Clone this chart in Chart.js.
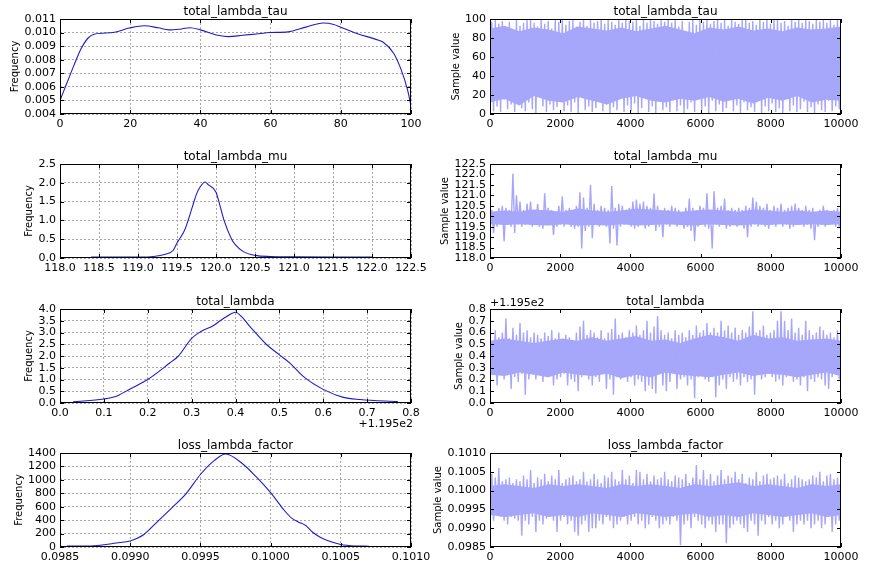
<!DOCTYPE html>
<html>
<head>
<meta charset="utf-8">
<script src="https://cdn.jsdelivr.net/npm/chart.js@4.4.1/dist/chart.umd.min.js"></script>
<style>
  html, body { margin: 0; padding: 0; background: #fff; }
  #page { position: relative; width: 869px; height: 572px; overflow: hidden; }
  .cell { position: absolute; }
</style>
</head>
<body>
<div id="page"></div>
<script>
// ---- KDE curves (left column) ----
const tauKdeX = [0, 2, 4, 6, 8, 10, 15, 20, 24, 28, 31, 34, 37, 40, 45, 48, 52, 56, 60, 65, 70, 75, 78, 80, 85, 90, 92, 95, 97, 99, 100];
const tauKdeY = [0.0050, 0.0063, 0.0076, 0.0088, 0.0096, 0.0099, 0.0100, 0.01035, 0.0105, 0.01035, 0.0102, 0.01025, 0.01035, 0.0102, 0.0098, 0.0097, 0.0098, 0.0099, 0.0100, 0.01005, 0.0104, 0.0107, 0.0106, 0.0104, 0.0099, 0.0095, 0.0093, 0.0085, 0.0074, 0.0058, 0.0046];

const muKdeX = [118.4, 118.8, 119.0, 119.2, 119.35, 119.45, 119.5, 119.6, 119.7, 119.75, 119.8, 119.86, 119.9, 120.0, 120.05, 120.1, 120.2, 120.25, 120.35, 120.5, 120.7, 121.0, 121.5, 122.0];
const muKdeY = [0.025, 0.025, 0.025, 0.04, 0.1, 0.2, 0.4, 0.75, 1.38, 1.7, 1.9, 2.02, 1.95, 1.75, 1.4, 1.02, 0.5, 0.35, 0.17, 0.07, 0.04, 0.03, 0.025, 0.025];

// total_lambda values are shown relative to the 119.5 offset
const lamKdeX = [0.03, 0.1, 0.13, 0.16, 0.2, 0.25, 0.27, 0.3, 0.32, 0.35, 0.365, 0.38, 0.4, 0.415, 0.433, 0.45, 0.47, 0.5, 0.524, 0.555, 0.6, 0.646, 0.684, 0.77];
const lamKdeY = [0.05, 0.17, 0.3, 0.6, 1.0, 1.7, 2.0, 2.75, 3.03, 3.3, 3.5, 3.68, 3.86, 3.65, 3.25, 2.9, 2.5, 2.05, 1.7, 1.12, 0.58, 0.24, 0.15, 0.06];

const lossKdeX = [0.09855, 0.0987, 0.0988, 0.0989, 0.0990, 0.09905, 0.0991, 0.0992, 0.0993, 0.0994, 0.0995, 0.0996, 0.09968, 0.0998, 0.0999, 0.1000, 0.1001, 0.10015, 0.1002, 0.10025, 0.1003, 0.10035, 0.1004, 0.1005, 0.1006, 0.1007];
const lossKdeY = [14, 15, 30, 60, 90, 130, 190, 390, 590, 800, 1080, 1290, 1385, 1240, 1040, 810, 540, 430, 370, 320, 220, 150, 100, 38, 16, 12];

// ---- traces (right column): low / high of each block of 100 samples ----
const tauLo = [12, 3, 8, 2, 15, 5, 10, 2, 20, 6, 3, 12, 5, 1, 18, 8, 2, 10, 4, 7, 15, 3, 9, 2, 12, 1, 25, 4, 8, 2, 6, 14, 3, 10, 1, 7, 4, 18, 2, 9, 3, 11, 1, 6, 22, 2, 8, 1, 13, 4, 7, 2, 16, 3, 9, 1, 5, 12, 2, 20, 4, 8, 1, 14, 3, 10, 2, 6, 18, 3, 9, 1, 12, 4, 7, 2, 15, 1, 8, 3, 11, 2, 6, 1, 24, 3, 9, 2, 5, 13, 2, 7, 1, 10, 4, 2, 14, 3, 8, 5];
const tauHi = [97, 99, 95, 98, 85, 97, 55, 99, 93, 96, 99, 100, 96, 92, 100, 95, 98, 90, 99, 97, 100, 94, 98, 99, 92, 97, 100, 93, 99, 96, 98, 100, 95, 99, 97, 94, 100, 96, 99, 98, 97, 100, 93, 99, 96, 100, 98, 95, 99, 97, 100, 96, 99, 92, 98, 70, 97, 100, 94, 99, 97, 100, 95, 98, 100, 96, 99, 93, 100, 97, 95, 99, 100, 96, 98, 94, 100, 97, 99, 95, 99, 100, 96, 98, 93, 100, 97, 99, 96, 100, 98, 95, 100, 97, 99, 96, 100, 94, 99, 98];

const muLo = [119.6, 119.2, 119.5, 119.7, 118.8, 119.6, 119.5, 119.2, 119.6, 119.5, 119.6, 119.7, 119.5, 119.6, 119.5, 119.4, 119.6, 119.7, 119.1, 119.5, 119.6, 119.5, 119.7, 119.5, 119.4, 119.5, 118.45, 119.3, 119.5, 118.95, 119.6, 119.5, 119.7, 119.5, 118.7, 119.4, 118.6, 119.5, 119.6, 119.7, 119.5, 119.4, 119.5, 119.6, 119.4, 119.5, 119.6, 119.3, 119.5, 119.0, 119.6, 119.5, 119.7, 119.5, 119.6, 119.4, 119.5, 119.3, 118.8, 119.5, 119.6, 119.5, 119.4, 118.45, 119.6, 119.5, 119.6, 119.4, 119.5, 119.6, 119.5, 119.6, 119.4, 119.0, 119.5, 119.6, 119.5, 119.6, 119.5, 119.4, 119.6, 119.5, 119.7, 119.5, 119.6, 119.4, 119.5, 119.6, 119.7, 119.5, 119.6, 119.4, 118.85, 119.5, 119.6, 119.5, 119.6, 119.7, 119.5, 119.5];
const muHi = [120.3, 120.2, 120.4, 120.5, 120.4, 120.3, 122.05, 121.0, 120.7, 120.3, 120.6, 120.7, 120.3, 120.6, 120.3, 121.1, 120.4, 120.3, 120.2, 120.5, 120.95, 120.3, 120.4, 120.2, 120.5, 121.15, 120.9, 120.4, 121.5, 120.6, 120.3, 120.5, 120.4, 120.3, 121.45, 120.4, 120.6, 120.5, 120.3, 120.4, 120.7, 120.8, 120.6, 120.7, 120.5, 120.4, 121.1, 120.5, 120.3, 120.4, 120.3, 120.5, 120.4, 120.3, 120.2, 120.4, 120.85, 120.4, 120.3, 120.5, 120.4, 121.1, 120.3, 121.2, 120.4, 120.5, 120.85, 120.3, 120.4, 120.3, 120.4, 120.3, 120.5, 120.4, 120.9, 120.7, 120.5, 120.4, 120.6, 120.3, 120.5, 120.4, 120.6, 120.3, 120.4, 120.5, 120.6, 120.4, 120.3, 120.5, 120.3, 120.4, 120.2, 120.3, 120.5, 120.3, 120.2, 120.3, 120.4, 120.5];

const lamLo = [0.2, 0.28, 0.15, 0.25, 0.2, 0.3, 0.12, 0.22, 0.18, 0.25, 0.07, 0.2, 0.25, 0.2, 0.28, 0.18, 0.22, 0.25, 0.15, 0.2, 0.22, 0.25, 0.15, 0.2, 0.18, 0.1, 0.22, 0.25, 0.2, 0.15, 0.22, 0.18, 0.25, 0.12, 0.2, 0.07, 0.22, 0.2, 0.25, 0.18, 0.22, 0.15, 0.2, 0.18, 0.1, 0.15, 0.12, 0.08, 0.25, 0.15, 0.1, 0.18, 0.25, 0.12, 0.2, 0.22, 0.15, 0.2, 0.04, 0.22, 0.25, 0.2, 0.18, 0.22, 0.05, 0.15, 0.2, 0.12, 0.22, 0.18, 0.2, 0.15, 0.22, 0.18, 0.2, 0.07, 0.25, 0.2, 0.22, 0.25, 0.22, 0.18, 0.2, 0.15, 0.22, 0.25, 0.18, 0.2, 0.15, 0.22, 0.1, 0.2, 0.18, 0.22, 0.2, 0.15, 0.12, 0.22, 0.25, 0.2];
const lamHi = [0.5, 0.62, 0.56, 0.6, 0.72, 0.55, 0.64, 0.58, 0.68, 0.6, 0.62, 0.56, 0.6, 0.58, 0.55, 0.6, 0.57, 0.62, 0.55, 0.6, 0.54, 0.58, 0.56, 0.52, 0.6, 0.65, 0.7, 0.58, 0.62, 0.6, 0.56, 0.62, 0.55, 0.6, 0.63, 0.72, 0.58, 0.6, 0.56, 0.62, 0.6, 0.66, 0.58, 0.62, 0.7, 0.6, 0.65, 0.74, 0.62, 0.58, 0.6, 0.55, 0.62, 0.58, 0.6, 0.56, 0.62, 0.58, 0.66, 0.6, 0.62, 0.68, 0.6, 0.64, 0.6, 0.7, 0.62, 0.66, 0.6, 0.64, 0.58, 0.62, 0.6, 0.65, 0.78, 0.6, 0.62, 0.66, 0.58, 0.6, 0.62, 0.7, 0.78, 0.7, 0.62, 0.72, 0.6, 0.64, 0.58, 0.7, 0.62, 0.58, 0.6, 0.65, 0.62, 0.58, 0.6, 0.56, 0.62, 0.52];

const lossLo = [0.0991, 0.0992, 0.09935, 0.0993, 0.0992, 0.0991, 0.0993, 0.09925, 0.0992, 0.0988, 0.0992, 0.0991, 0.0993, 0.0989, 0.0992, 0.0991, 0.09925, 0.0993, 0.0992, 0.0989, 0.0992, 0.0993, 0.0991, 0.0992, 0.0989, 0.0988, 0.0991, 0.0992, 0.0989, 0.0990, 0.0990, 0.0992, 0.0991, 0.0993, 0.0992, 0.0990, 0.0991, 0.0992, 0.0993, 0.0991, 0.0992, 0.0993, 0.0991, 0.0992, 0.0990, 0.0991, 0.0993, 0.0992, 0.0990, 0.0991, 0.0992, 0.0991, 0.0993, 0.0992, 0.09855, 0.0991, 0.0992, 0.0990, 0.0993, 0.0992, 0.0991, 0.0990, 0.0992, 0.0991, 0.0989, 0.0991, 0.0991, 0.0986, 0.0990, 0.0991, 0.0992, 0.0991, 0.0990, 0.0989, 0.0992, 0.0991, 0.0988, 0.0992, 0.0991, 0.0993, 0.0991, 0.0992, 0.0990, 0.0991, 0.0993, 0.0992, 0.0989, 0.0991, 0.0992, 0.0991, 0.0992, 0.0990, 0.0991, 0.0992, 0.0990, 0.0991, 0.0993, 0.0989, 0.0991, 0.0992];
const lossHi = [0.10045, 0.10035, 0.1006, 0.10025, 0.1003, 0.10035, 0.1002, 0.1003, 0.10025, 0.1004, 0.1003, 0.10055, 0.1002, 0.10035, 0.1003, 0.10045, 0.10025, 0.1004, 0.1003, 0.10055, 0.1002, 0.1003, 0.10035, 0.1004, 0.10025, 0.1003, 0.1005, 0.10025, 0.1003, 0.10045, 0.1003, 0.1002, 0.1004, 0.10035, 0.1005, 0.1003, 0.10025, 0.10055, 0.1003, 0.1004, 0.1002, 0.10055, 0.1005, 0.1003, 0.10045, 0.10025, 0.1004, 0.1003, 0.10035, 0.1005, 0.1003, 0.10025, 0.1004, 0.10035, 0.1003, 0.10045, 0.1002, 0.10035, 0.10068, 0.1003, 0.10055, 0.1003, 0.10045, 0.10025, 0.1004, 0.10055, 0.1003, 0.1004, 0.10035, 0.1005, 0.1003, 0.10045, 0.1002, 0.10035, 0.1003, 0.1005, 0.10025, 0.1004, 0.10045, 0.1003, 0.10035, 0.1004, 0.1003, 0.10045, 0.1002, 0.1003, 0.1004, 0.10035, 0.1003, 0.10025, 0.1003, 0.1004, 0.10035, 0.1005, 0.10025, 0.1004, 0.10045, 0.1003, 0.10035, 0.1002];

// dense core of each trace, per block of 400 samples
const tauCoreLo = [12, 16, 9, 19, 14, 12, 18, 14, 10, 16, 19, 14, 12, 16, 14, 18, 13, 16, 11, 17, 14, 19, 12, 15, 14];
const tauCoreHi = [90, 93, 87, 91, 89, 85, 92, 90, 88, 91, 87, 90, 93, 89, 85, 91, 89, 92, 88, 90, 87, 91, 89, 90, 92];
const muCoreLo = [119.62, 119.58, 119.62, 119.58, 119.55, 119.62, 119.55, 119.58, 119.55, 119.62, 119.55, 119.58, 119.62, 119.58, 119.55, 119.62, 119.58, 119.55, 119.62, 119.58, 119.62, 119.58, 119.62, 119.58, 119.62];
const muCoreHi = [120.22, 120.27, 120.22, 120.32, 120.27, 120.22, 120.37, 120.27, 120.22, 120.27, 120.37, 120.32, 120.27, 120.22, 120.27, 120.32, 120.27, 120.22, 120.32, 120.27, 120.22, 120.27, 120.22, 120.27, 120.22];
const lamCoreLo = [0.24, 0.23, 0.26, 0.24, 0.22, 0.26, 0.24, 0.23, 0.25, 0.21, 0.24, 0.22, 0.26, 0.24, 0.23, 0.22, 0.24, 0.26, 0.23, 0.25, 0.24, 0.22, 0.24, 0.26, 0.23];
const lamCoreHi = [0.53, 0.55, 0.53, 0.51, 0.53, 0.55, 0.53, 0.56, 0.53, 0.55, 0.57, 0.53, 0.54, 0.51, 0.55, 0.58, 0.56, 0.53, 0.58, 0.55, 0.56, 0.53, 0.54, 0.55, 0.53];
const lossCoreLo = [0.09935, 0.0993, 0.09935, 0.0994, 0.0993, 0.09935, 0.0993, 0.0994, 0.09935, 0.0993, 0.0994, 0.09935, 0.0993, 0.09935, 0.0994, 0.0993, 0.09935, 0.0993, 0.0994, 0.09935, 0.0993, 0.09935, 0.0994, 0.0993, 0.09935];
const lossCoreHi = [0.10012, 0.10017, 0.10012, 0.10007, 0.10017, 0.10012, 0.10017, 0.10012, 0.10007, 0.10017, 0.10012, 0.10017, 0.10012, 0.10007, 0.10017, 0.10012, 0.10017, 0.10022, 0.10012, 0.10017, 0.10012, 0.10007, 0.10017, 0.10012, 0.10017];

const nSamples = 10000;
const traceTicks = [0, 2000, 4000, 6000, 8000, 10000];

const kdeColor = 'rgb(28, 28, 205)';
const traceColor = 'rgb(166, 166, 250)';
const tickFont = '11px "DejaVu Sans"';

Chart.defaults.font.family = '"DejaVu Sans", sans-serif';
Chart.defaults.font.size = 11;
Chart.defaults.color = '#000';

// frame, inward ticks, titles and offset texts like matplotlib axes
const axesPlugin = {
  id: 'axesDeco',
  afterDraw(chart, args, opts) {
    const { ctx, chartArea: a, scales } = chart;
    ctx.save();
    ctx.strokeStyle = '#000';
    ctx.lineWidth = 1;
    ctx.beginPath();
    scales.x.ticks.forEach(t => {
      const px = Math.round(scales.x.getPixelForValue(t.value)) + 0.5;
      ctx.moveTo(px, a.bottom); ctx.lineTo(px, a.bottom - 4);
      ctx.moveTo(px, a.top); ctx.lineTo(px, a.top + 4);
    });
    scales.y.ticks.forEach(t => {
      const py = Math.round(scales.y.getPixelForValue(t.value)) + 0.5;
      ctx.moveTo(a.left, py); ctx.lineTo(a.left + 4, py);
      ctx.moveTo(a.right, py); ctx.lineTo(a.right - 4, py);
    });
    ctx.stroke();
    ctx.strokeRect(Math.round(a.left) + 0.5, Math.round(a.top) + 0.5, Math.round(a.width) - 1, Math.round(a.height) - 1);

    ctx.fillStyle = '#000';
    ctx.textBaseline = 'alphabetic';
    ctx.textAlign = 'center';
    ctx.font = '12px "DejaVu Sans"';
    ctx.fillText(opts.title, (a.left + a.right) / 2, a.top - 4);

    // y axis title sits left of the widest tick label
    ctx.font = tickFont;
    let widest = 0;
    scales.y.ticks.forEach(t => { widest = Math.max(widest, ctx.measureText(t.label).width); });
    ctx.font = '10px "DejaVu Sans"';
    ctx.save();
    ctx.translate(a.left - 4 - widest - 9, (a.top + a.bottom) / 2);
    ctx.rotate(-Math.PI / 2);
    ctx.textBaseline = 'middle';
    ctx.fillText(opts.yTitle, 0, 0);
    ctx.restore();

    ctx.font = tickFont;
    if (opts.xOffset) {
      ctx.textAlign = 'right';
      ctx.fillText(opts.xOffset, a.right + 2, a.bottom + 24);
    }
    if (opts.yOffset) {
      ctx.textAlign = 'left';
      ctx.fillText(opts.yOffset, a.left, a.top - 3);
    }
    ctx.restore();
  }
};

function toPoints(xs, ys) {
  return xs.map((x, i) => ({ x: x, y: ys[i] }));
}

// one point per block of samples, spanning the whole run
function blockPoints(vals) {
  const step = nSamples / (vals.length - 1);
  return vals.map((v, i) => ({ x: i * step, y: v }));
}

// alternate low/high of each block, spread evenly over the iterations
function zigzagPoints(lo, hi) {
  const pts = [];
  const step = nSamples / (lo.length * 2 - 1);
  lo.forEach((v, i) => {
    pts.push({ x: (2 * i) * step, y: v });
    pts.push({ x: (2 * i + 1) * step, y: hi[i] });
  });
  return pts;
}

function kdeDatasets(xs, ys) {
  return [{
    data: toPoints(xs, ys),
    borderColor: kdeColor,
    borderWidth: 1.1,
    pointRadius: 0,
    fill: false,
    cubicInterpolationMode: 'monotone'
  }];
}

// solid core band plus the spiky low/high trace
function traceDatasets(lo, hi, coreLo, coreHi) {
  return [{
    data: zigzagPoints(lo, hi),
    borderColor: traceColor,
    borderWidth: 1.4,
    borderJoinStyle: 'bevel',
    pointRadius: 0,
    tension: 0,
    fill: false
  }, {
    data: blockPoints(coreHi),
    borderWidth: 0,
    backgroundColor: traceColor,
    pointRadius: 0,
    tension: 0,
    fill: '+1'
  }, {
    data: blockPoints(coreLo),
    borderWidth: 0,
    pointRadius: 0,
    tension: 0,
    fill: false
  }];
}

function makeAxes(left, top, areaH, cfg) {
  const cell = document.createElement('div');
  cell.className = 'cell';
  const W = 440, padTop = 19, xH = 22, padBottom = 12;
  cell.style.left = left + 'px';
  cell.style.top = (top - padTop) + 'px';
  cell.style.width = W + 'px';
  cell.style.height = (padTop + areaH + xH + padBottom) + 'px';
  const canvas = document.createElement('canvas');
  cell.appendChild(canvas);
  document.getElementById('page').appendChild(cell);

  const gridOpts = cfg.grid
    ? { display: true, color: '#a8a8a8', lineWidth: 1, drawTicks: false }
    : { display: false, drawTicks: false };

  new Chart(canvas, {
    type: 'line',
    data: { datasets: cfg.datasets },
    options: {
      responsive: true,
      maintainAspectRatio: false,
      animation: false,
      events: [],
      layout: { padding: { top: padTop, right: W - 351 - 60, left: 0, bottom: padBottom } },
      scales: {
        x: {
          type: 'linear',
          min: cfg.xMin, max: cfg.xMax,
          afterBuildTicks: cfg.xTicks ? (s) => { s.ticks = cfg.xTicks.map(v => ({ value: v })); } : undefined,
          afterFit: (s) => { s.height = xH; },
          grid: gridOpts,
          border: { display: false, dash: [2, 2] },
          ticks: {
            stepSize: cfg.xStep,
            autoSkip: false, maxRotation: 0, minRotation: 0, padding: 4,
            font: { size: 11 },
            callback: (v) => cfg.xDec === null ? String(v) : Number(v).toFixed(cfg.xDec)
          }
        },
        y: {
          min: cfg.yMin, max: cfg.yMax,
          afterFit: (s) => { s.width = 60; },
          grid: gridOpts,
          border: { display: false, dash: [2, 2] },
          ticks: {
            stepSize: cfg.yStep,
            autoSkip: false, padding: 4,
            font: { size: 11 },
            callback: (v) => Number(v).toFixed(cfg.yDec)
          }
        }
      },
      plugins: {
        legend: { display: false },
        tooltip: { enabled: false },
        filler: { propagate: false },
        axesDeco: { title: cfg.title, yTitle: cfg.yTitle, xOffset: cfg.xOffset, yOffset: cfg.yOffset }
      }
    },
    plugins: [axesPlugin]
  });
}

const rowTops = [19, 164, 309, 453];
const rowHeights = [95, 94, 94, 94];

makeAxes(0, rowTops[0], rowHeights[0], { title: 'total_lambda_tau', yTitle: 'Frequency', grid: true,
  datasets: kdeDatasets(tauKdeX, tauKdeY), xMin: 0, xMax: 100, xStep: 20, xDec: 0, yMin: 0.004, yMax: 0.011, yStep: 0.001, yDec: 3 });
makeAxes(430, rowTops[0], rowHeights[0], { title: 'total_lambda_tau', yTitle: 'Sample value', grid: false,
  datasets: traceDatasets(tauLo, tauHi, tauCoreLo, tauCoreHi), xMin: 0, xMax: nSamples, xTicks: traceTicks, xDec: null, yMin: 0, yMax: 100, yStep: 20, yDec: 0 });

makeAxes(0, rowTops[1], rowHeights[1], { title: 'total_lambda_mu', yTitle: 'Frequency', grid: true,
  datasets: kdeDatasets(muKdeX, muKdeY), xMin: 118, xMax: 122.5, xStep: 0.5, xDec: 1, yMin: 0, yMax: 2.5, yStep: 0.5, yDec: 1 });
makeAxes(430, rowTops[1], rowHeights[1], { title: 'total_lambda_mu', yTitle: 'Sample value', grid: false,
  datasets: traceDatasets(muLo, muHi, muCoreLo, muCoreHi), xMin: 0, xMax: nSamples, xTicks: traceTicks, xDec: null, yMin: 118, yMax: 122.5, yStep: 0.5, yDec: 1 });

makeAxes(0, rowTops[2], rowHeights[2], { title: 'total_lambda', yTitle: 'Frequency', grid: true,
  datasets: kdeDatasets(lamKdeX, lamKdeY), xMin: 0, xMax: 0.8, xStep: 0.1, xDec: 1, yMin: 0, yMax: 4, yStep: 0.5, yDec: 1, xOffset: '+1.195e2' });
makeAxes(430, rowTops[2], rowHeights[2], { title: 'total_lambda', yTitle: 'Sample value', grid: false,
  datasets: traceDatasets(lamLo, lamHi, lamCoreLo, lamCoreHi), xMin: 0, xMax: nSamples, xTicks: traceTicks, xDec: null, yMin: 0, yMax: 0.8, yStep: 0.1, yDec: 1, yOffset: '+1.195e2' });

makeAxes(0, rowTops[3], rowHeights[3], { title: 'loss_lambda_factor', yTitle: 'Frequency', grid: true,
  datasets: kdeDatasets(lossKdeX, lossKdeY), xMin: 0.0985, xMax: 0.101, xStep: 0.0005, xDec: 4, yMin: 0, yMax: 1400, yStep: 200, yDec: 0 });
makeAxes(430, rowTops[3], rowHeights[3], { title: 'loss_lambda_factor', yTitle: 'Sample value', grid: false,
  datasets: traceDatasets(lossLo, lossHi, lossCoreLo, lossCoreHi), xMin: 0, xMax: nSamples, xTicks: traceTicks, xDec: null, yMin: 0.0985, yMax: 0.101, yStep: 0.0005, yDec: 4 });
</script>
</body>
</html>
